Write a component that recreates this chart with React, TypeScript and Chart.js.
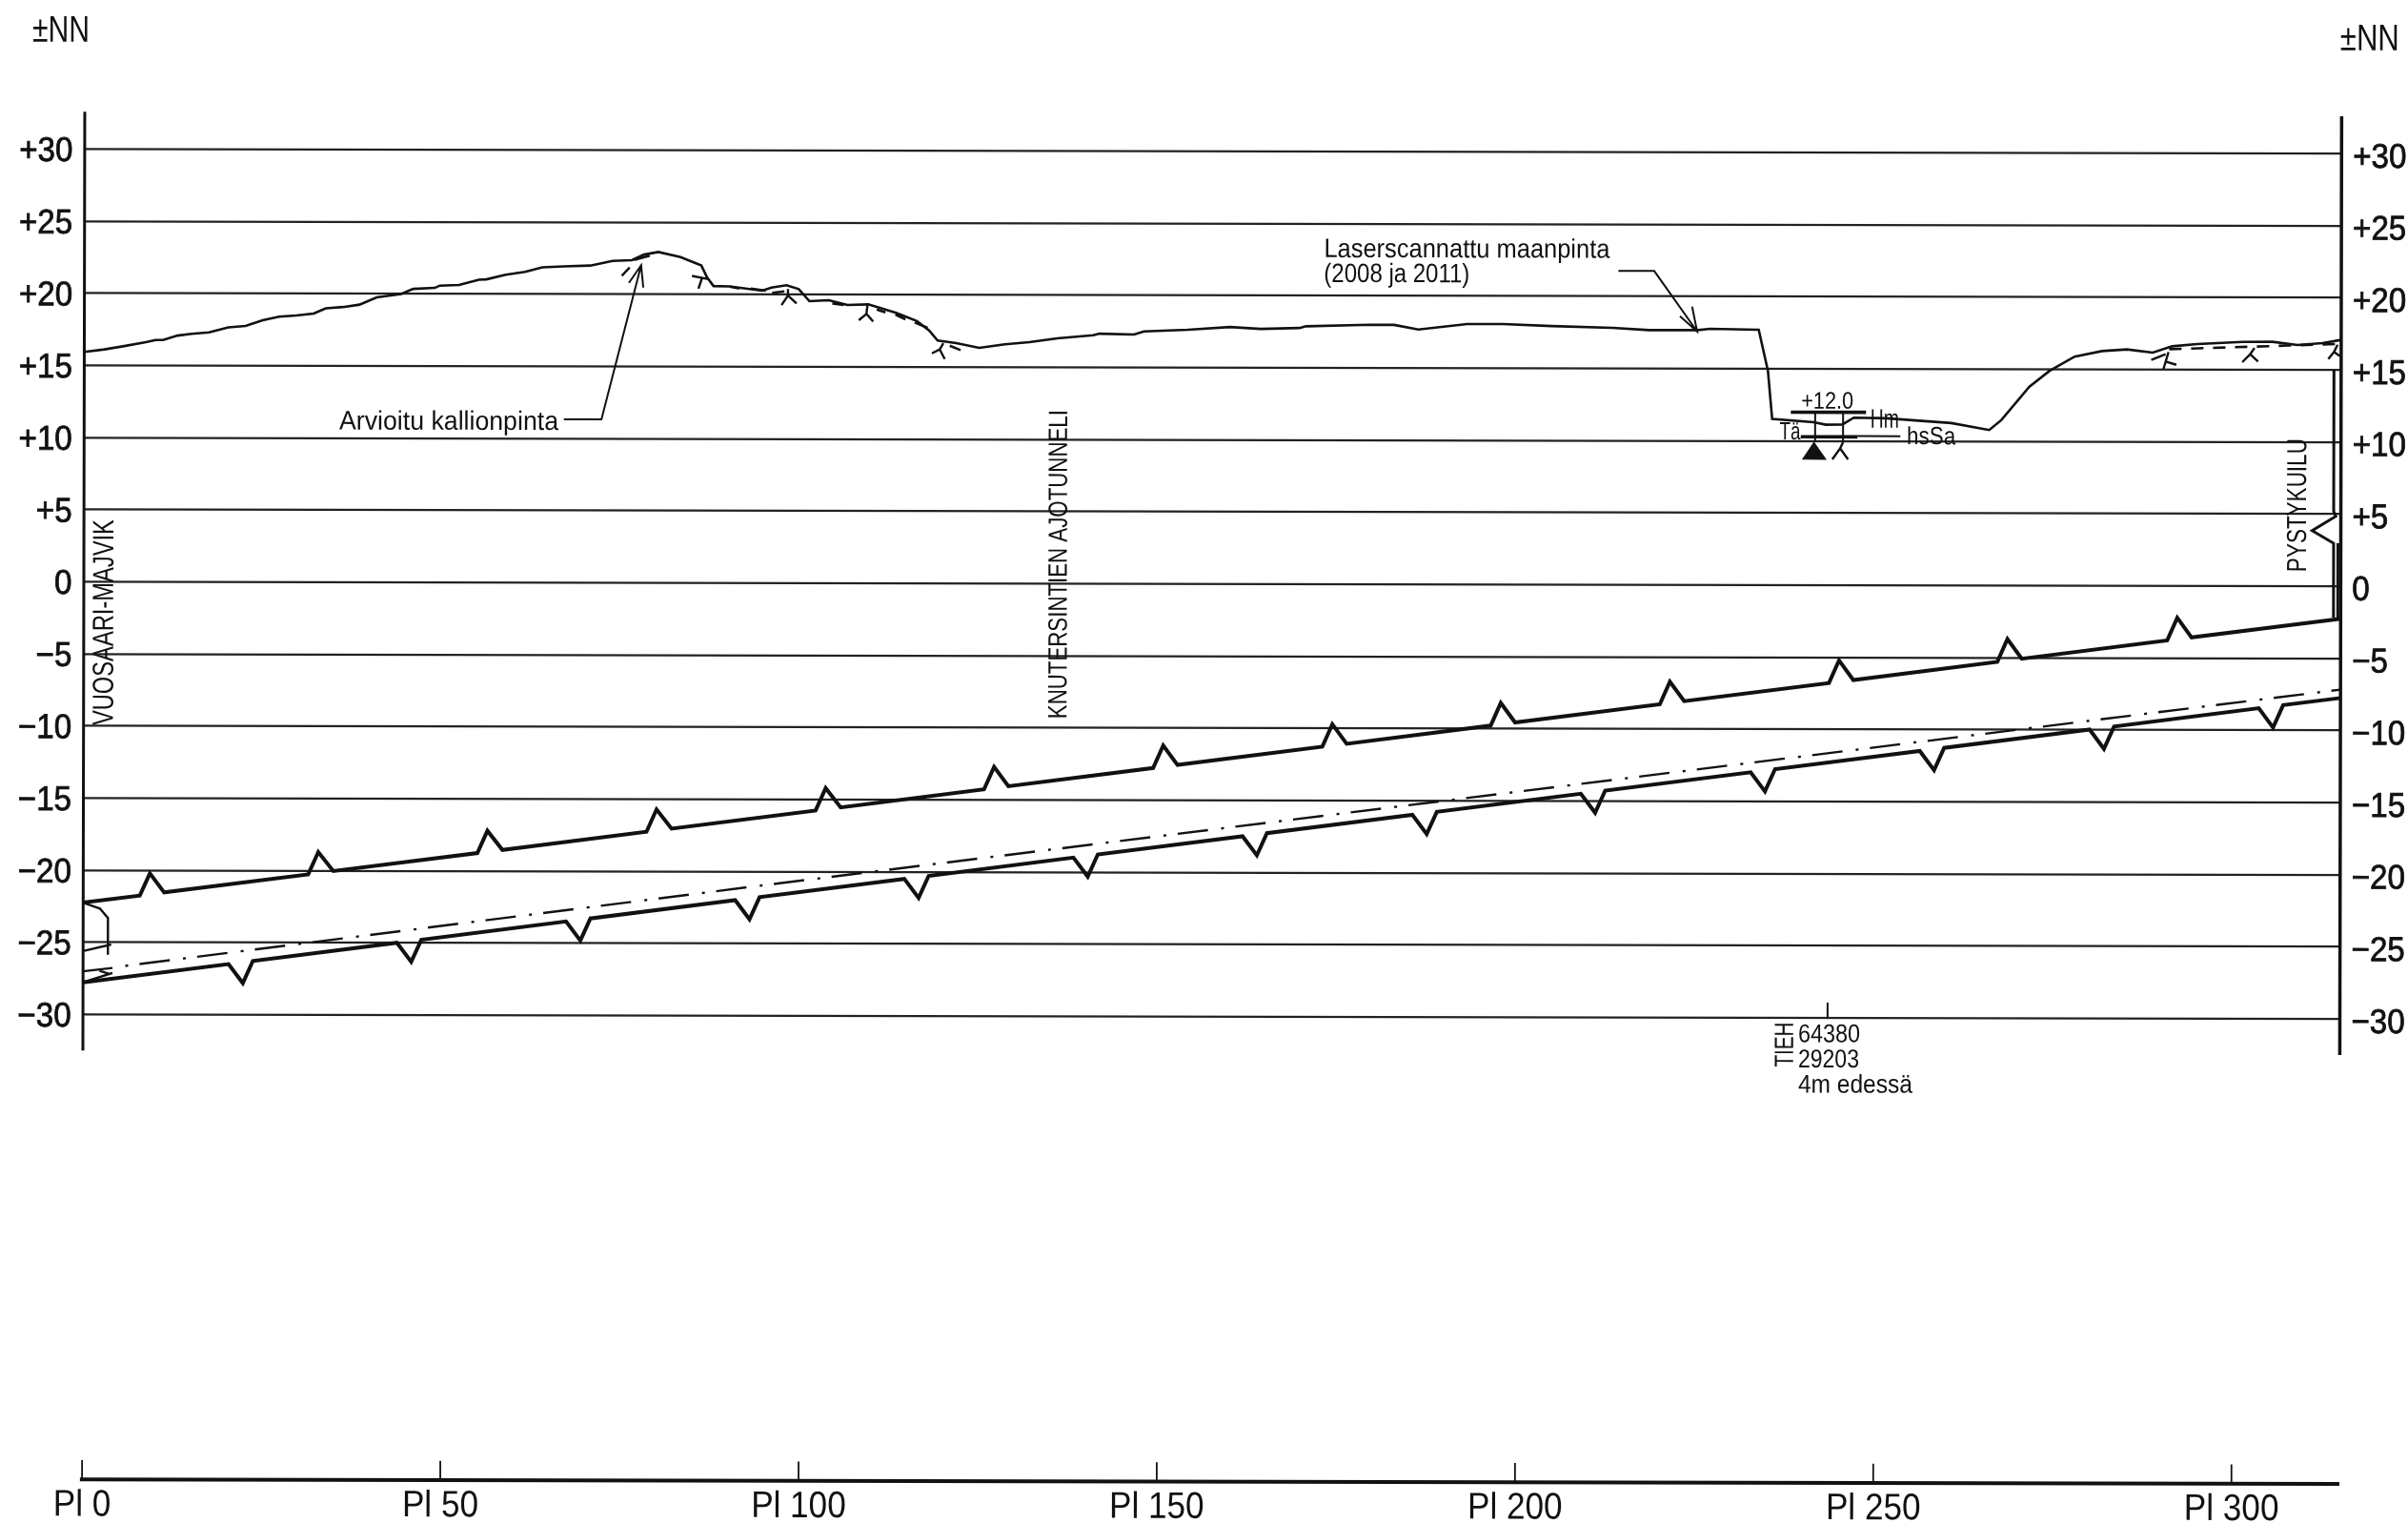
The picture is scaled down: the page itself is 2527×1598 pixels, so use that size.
import React, { useEffect, useRef } from "react";
import { Chart, registerables } from "chart.js";

Chart.register(...registerables);

const FONT = '"Liberation Sans", Arimo, sans-serif';
const INK = "#111111";

const yTickValues = [30, 25, 20, 15, 10, 5, 0, -5, -10, -15, -20, -25, -30];
const plTickValues = [0, 50, 100, 150, 200, 250, 300];

const terrainX = [0, 2.8, 5.2, 8.6, 9.95, 11, 13, 15, 17.4, 20.1, 22.5, 24.9, 27.2, 29.6, 32, 33.7, 36.1, 38.4, 40.8, 44.2, 45.9, 48.9, 49.6, 52.3, 55.05, 56.1, 58.8, 61.5, 63.9, 66.9, 70.6, 73.7, 76.4, 78.1, 80.1, 83.2, 86.1, 86.9, 87.8, 90, 94.6, 95.9, 98, 99.7, 101.2, 103.9, 106.5, 109.4, 113.3, 116.2, 117.9, 119.1, 121.7, 124.9, 128.5, 131.9, 135.8, 140.8, 141.7, 146.5, 147.9, 154, 159.9, 164.2, 169.6, 170.5, 179.4, 182.8, 186.2, 193, 198, 204.8, 213.3, 218.4, 225.2, 226.9, 233.7, 235, 235.6, 241.4, 243.1, 245.4, 247, 251.5, 260.6, 265.9, 267.6, 271.5, 274.3, 277.8, 281.6, 285.1, 288.7, 291.4, 294.9, 301.2, 305.4, 308.9, 312.4, 315];
const terrainY = [15.94, 16.12, 16.32, 16.63, 16.78, 16.78, 17.09, 17.21, 17.32, 17.67, 17.76, 18.16, 18.42, 18.5, 18.63, 19.0, 19.09, 19.26, 19.77, 20.0, 20.36, 20.43, 20.59, 20.64, 21.0, 21.03, 21.35, 21.56, 21.87, 21.94, 22.0, 22.33, 22.38, 22.77, 22.95, 22.6, 22.02, 21.2, 20.6, 20.58, 20.28, 20.5, 20.66, 20.4, 19.56, 19.63, 19.3, 19.35, 18.76, 18.2, 17.55, 16.85, 16.67, 16.35, 16.6, 16.75, 17.02, 17.24, 17.35, 17.29, 17.51, 17.63, 17.83, 17.7, 17.77, 17.89, 18.0, 18.0, 17.68, 18.07, 18.07, 17.94, 17.82, 17.67, 17.68, 17.77, 17.71, 14.86, 11.53, 11.31, 11.14, 11.15, 11.63, 11.59, 11.27, 10.79, 11.49, 13.8, 14.9, 15.89, 16.28, 16.4, 16.18, 16.62, 16.78, 16.94, 16.95, 16.73, 16.86, 17.09];

const upperTunnelX = [0, 7.9, 9.3, 11.3, 31.4, 32.8, 34.9, 55, 56.4, 58.5, 78.6, 80, 82.1, 102.2, 103.6, 105.7, 125.7, 127.1, 129.1, 149.3, 150.7, 152.7, 172.9, 174.3, 176.3, 196.4, 197.8, 199.8, 220, 221.4, 223.4, 243.6, 245, 247, 267.1, 268.5, 270.5, 290.8, 292.2, 294.2, 315];
const upperTunnelY = [-22.24, -21.74, -20.2, -21.52, -20.25, -18.7, -20.02, -18.75, -17.2, -18.53, -17.25, -15.7, -17.03, -15.75, -14.2, -15.53, -14.26, -12.7, -14.04, -12.76, -11.2, -12.54, -11.26, -9.7, -11.05, -9.77, -8.2, -9.55, -8.27, -6.7, -8.05, -6.77, -5.2, -6.56, -5.28, -3.7, -5.06, -3.77, -2.2, -3.56, -2.24];

const lowerTunnelX = [0, 20.3, 22.3, 23.7, 43.8, 45.8, 47.2, 67.4, 69.4, 70.8, 91, 93, 94.4, 114.6, 116.6, 118, 138.2, 140.2, 141.6, 161.8, 163.8, 165.2, 185.5, 187.5, 188.9, 209, 211, 212.4, 232.7, 234.7, 236.1, 256.3, 258.3, 259.7, 280, 282, 283.4, 303.6, 305.6, 307, 315];
const lowerTunnelY = [-27.77, -26.48, -27.8, -26.26, -24.98, -26.3, -24.77, -23.48, -24.8, -23.27, -21.98, -23.3, -21.77, -20.48, -21.8, -20.27, -18.98, -20.3, -18.76, -17.48, -18.8, -17.26, -15.97, -17.3, -15.76, -14.48, -15.8, -14.26, -12.97, -14.3, -12.75, -11.47, -12.8, -11.25, -9.96, -11.3, -9.75, -8.46, -9.8, -8.24, -7.74];

const centerLineX = [5.9, 93.2, 315];
const centerLineY = [-26.62, -21.05, -7.16];

const rockPatchX = [76.7, 78.9, null, 90.1, 91.4, null, 93, 95.1, null, 96, 97.7, null, 104.4, 106, null, 110.6, 111.8, null, 113.2, 114.6, null, 115.9, 117.7, null, 120.8, 122.3];
const rockPatchY = [22.4, 22.7, null, 20.56, 20.43, null, 20.43, 20.28, null, 20.13, 20.24, null, 19.41, 19.3, null, 19, 18.8, null, 18.65, 18.32, null, 18.1, 17.73, null, 16.49, 16.19];
const rockDashX = [291, 307.6, 314.2];
const rockDashY = [16.42, 16.69, 16.8];

const rockMarkX = [98.2, 98.2, 97.3, null, 98.2, 99.4, null, 109.3, 109.15, 108.1, null, 109.15, 110.1, null, 119.9, 119.4, 118.3, null, 119.4, 120.1, null, 84.8, 87.1, null, 86.2, 85.7, null, 75, 76.1, null, 288.5, 290.5, null, 290.9, 290.2, null, 290.5, 292, null, 302.9, 302.3, 301.2, null, 302.3, 303.4, null, 314.5, 314, 313.2, null, 314, 314.8, null, 245.5, 245.1, 244, null, 245.1, 246.2];
const rockMarkY = [20.4, 19.95, 19.29, null, 19.95, 19.4, null, 19.3, 18.69, 18.25, null, 18.69, 18.16, null, 16.67, 16.23, 15.96, null, 16.23, 15.57, null, 21.3, 21.08, null, 21.15, 20.42, null, 21.3, 21.87, null, 15.67, 16.07, null, 16.22, 15.04, null, 15.56, 15.34, null, 16.52, 16.08, 15.53, null, 16.08, 15.58, null, 16.75, 16.25, 15.76, null, 16.25, 15.98, null, 9.93, 9.5, 8.73, null, 9.5, 8.74];

const leaderX = [66.95, 72.2, 77.7, null, 76, 77.7, 78, null, 214.1, 219.1, 225.1, null, 222.7, 225.1, 224.4, null, 243.5, 243.5];
const leaderY = [11.33, 11.34, 22.03, null, 20.81, 22.03, 20.48, null, 21.77, 21.77, 17.59, null, 18.64, 17.59, 19.3, null, -28.93, -30];

const portalX = [0, 2.34, 3.46, 3.46, null, 0, 3.92, null, 0, 4.1, null, 0, 4.1, null, 2.3, 3.8];
const portalY = [-22.24, -22.65, -23.31, -25.85, null, -25.6, -25.14, null, -27, -26.77, null, -27.77, -27.11, null, -26.97, -27.2];

const shaftX = [314, 314, 314.3, 311, 314, 314, null, 314.6, 314.6];
const shaftY = [15.01, 5.2, 4.86, 3.86, 2.99, -2.16, null, 2.99, -2.16];

const boreThickX = [238.2, 248.7, null, 239.6, 247.5];
const boreThickY = [12, 12, null, 10.3, 10.3];
const boreThinX = [241.6, 241.6, null, 245.5, 245.5, null, 247.5, 253.5];
const boreThinY = [12, 9.93, null, 12, 9.93, null, 10.35, 10.35];
const boreTriangleX = [239.8, 243.1, 241.4];
const boreTriangleY = [8.74, 8.74, 9.93];

const axisLeftX = [0, 0];
const axisRightX = [315, 315];
const axisSpanY = [32.6, -32.5];
const plMarkX = [0, 0, null, 50, 50, null, 100, 100, null, 150, 150, null, 200, 200, null, 250, 250, null, 300, 300];
const plMarkY = [-62.2, -60.9, null, -62.2, -60.9, null, -62.2, -60.9, null, -62.2, -60.9, null, -62.2, -60.9, null, -62.2, -60.9, null, -62.2, -60.9];

type Note = { text: string; x: number; y: number; size: number; width: number; align?: CanvasTextAlign; vertical?: boolean };

const notes: Note[] = [
  { text: "±NN", x: -3.34, y: 38.35, size: 39, width: 60 },
  { text: "±NN", x: 318.9, y: 38.08, size: 39, width: 62 },
  { text: "Arvioitu kallionpinta", x: 50.9, y: 11.25, size: 28, width: 230 },
  { text: "Laserscannattu maanpinta", x: 173, y: 23.33, size: 28, width: 300, align: "left" },
  { text: "(2008 ja 2011)", x: 173, y: 21.61, size: 28, width: 153, align: "left" },
  { text: "VUOSAARI-MAJVIK", x: 2.67, y: -2.81, size: 31, width: 216, vertical: true },
  { text: "KNUTERSINTIEN AJOTUNNELI", x: 135.9, y: 1.35, size: 28, width: 324, vertical: true },
  { text: "PYSTYKUILU", x: 308.8, y: 5.62, size: 29, width: 140, vertical: true },
  { text: "+12.0", x: 243.3, y: 12.83, size: 25, width: 55 },
  { text: "Hm", x: 251.3, y: 11.58, size: 28, width: 30 },
  { text: "hsSa", x: 257.8, y: 10.4, size: 26, width: 51 },
  { text: "Tä", x: 238.1, y: 10.71, size: 26, width: 22 },
  { text: "TIEH", x: 237.4, y: -31.85, size: 28, width: 47, vertical: true },
  { text: "64380", x: 239.4, y: -31.05, size: 27, width: 65, align: "left" },
  { text: "29203", x: 239.4, y: -32.8, size: 27, width: 64, align: "left" },
  { text: "4m edessä", x: 239.4, y: -34.55, size: 27, width: 120, align: "left" },
];

const SCAN_TILT = 0.002;
const CAP = 0.35;

const drawCondensed = (ctx: any, text: string, x: number, y: number, size: number, squeeze: number, align: CanvasTextAlign, weight = 0) => {
  ctx.font = `${size}px ${FONT}`;
  ctx.textAlign = align;
  ctx.textBaseline = "alphabetic";
  const w = ctx.measureText(text).width * squeeze;
  ctx.fillText(text, x, y + size * CAP, w);
  if (weight > 0) {
    ctx.lineWidth = weight;
    ctx.strokeStyle = INK;
    ctx.strokeText(text, x, y + size * CAP, w);
  }
};

const scanPlugin = {
  id: "scan",
  beforeDraw(chart: any) {
    const { ctx } = chart;
    ctx.save();
    ctx.rotate(SCAN_TILT);
  },
  afterDraw(chart: any) {
    const { ctx, scales, chartArea } = chart;
    ctx.fillStyle = INK;
    scales.y.ticks.forEach((t: any) => {
      drawCondensed(ctx, t.label, chartArea.left - 12.5, scales.y.getPixelForValue(t.value), 36, 0.92, "right", 0.8);
    });
    scales.y2.ticks.forEach((t: any) => {
      drawCondensed(ctx, t.label, chartArea.right + 12, scales.y2.getPixelForValue(t.value) + 2, 36, 0.92, "left", 0.8);
    });
    scales.x.ticks.forEach((t: any) => {
      drawCondensed(ctx, t.label, scales.x.getPixelForValue(t.value), chartArea.bottom + 25, 39, 0.9, "center");
    });
    ctx.textBaseline = "alphabetic";
    for (const n of notes) {
      const px = scales.x.getPixelForValue(n.x);
      const py = scales.y.getPixelForValue(n.y);
      ctx.save();
      ctx.translate(px, py);
      if (n.vertical) ctx.rotate(-Math.PI / 2);
      ctx.textAlign = n.align ?? "center";
      ctx.font = `${n.size}px ${FONT}`;
      ctx.fillText(n.text, 0, n.size * CAP, n.width);
      ctx.restore();
    }
    ctx.restore();
  },
};

const zip = (xs: (number | null)[], ys: (number | null)[]) => xs.map((x, i) => ({ x: x as number, y: ys[i] as number }));

const line = (label: string, xs: (number | null)[], ys: (number | null)[], width: number, extra: object = {}) => ({
  label,
  data: zip(xs, ys),
  showLine: true,
  borderColor: INK,
  backgroundColor: INK,
  borderWidth: width,
  pointRadius: 0,
  pointHoverRadius: 0,
  tension: 0,
  spanGaps: false,
  clip: false,
  borderJoinStyle: "miter",
  ...extra,
});

const formatValue = (v: number) => (v > 0 ? `+${v}` : v < 0 ? `\u2212${Math.abs(v)}` : "0");

export default function App() {
  const ref = useRef<HTMLCanvasElement>(null);
  useEffect(() => {
    if (!ref.current) return;
    const yCommon = {
      min: -62.2,
      max: 32.6,
      border: { display: false },
      afterBuildTicks: (s: any) => {
        s.ticks = yTickValues.map((value) => ({ value }));
      },
    };
    const chart = new Chart(ref.current, {
      type: "scatter",
      data: {
        datasets: [
          line("Maanpinta", terrainX, terrainY, 2.6),
          line("Kallionpinta laikut", rockPatchX, rockPatchY, 2.6),
          line("Kallionpinta", rockDashX, rockDashY, 2.6, { borderDash: [13, 10] }),
          line("Kalliomerkit", rockMarkX, rockMarkY, 2.4),
          line("Ajotunneli katto", upperTunnelX, upperTunnelY, 4),
          line("Ajotunneli pohja", lowerTunnelX, lowerTunnelY, 4),
          line("Keskilinja", centerLineX, centerLineY, 2.4, { borderDash: [3, 12, 32, 14] }),
          line("Viitteet", leaderX, leaderY, 2),
          line("Suuaukko", portalX, portalY, 2.4),
          line("Pystykuilu", shaftX, shaftY, 3),
          line("Kairaus", boreThinX, boreThinY, 2),
          line("Kairaus kerrokset", boreThickX, boreThickY, 3.6),
          line("Pohjavesi", boreTriangleX, boreTriangleY, 1, { fill: "shape" }),
          line("Vasen akseli", axisLeftX, axisSpanY, 3),
          line("Oikea akseli", axisRightX, axisSpanY, 3.5),
          line("Paaluvalit", plMarkX, plMarkY, 1.8),
        ] as any,
      },
      plugins: [scanPlugin],
      options: {
        animation: false,
        responsive: false,
        devicePixelRatio: 1,
        events: [],
        layout: { padding: { top: 117, left: 0, right: 0, bottom: 0 } },
        plugins: { legend: { display: false }, tooltip: { enabled: false } },
        scales: {
          x: {
            type: "linear",
            min: 0,
            max: 315,
            grid: { display: false },
            border: { display: true, color: INK, width: 4 },
            afterBuildTicks: (s: any) => {
              s.ticks = plTickValues.map((value) => ({ value }));
            },
            afterFit: (s: any) => {
              s.height = 46.4;
            },
            ticks: { display: false, callback: (v: any) => `Pl ${v}` },
          },
          y: {
            ...yCommon,
            position: "left",
            afterFit: (s: any) => {
              s.width = 89.2;
            },
            grid: { display: true, color: "#222222", lineWidth: 2.4, drawTicks: false, tickLength: 0 },
            ticks: { display: false, callback: (v: any) => formatValue(v) },
          },
          y2: {
            ...yCommon,
            position: "right",
            afterFit: (s: any) => {
              s.width = 69.4;
            },
            grid: { display: false, drawTicks: false, tickLength: 0 },
            ticks: { display: false, callback: (v: any) => formatValue(v) },
          },
        },
      } as any,
    });
    return () => chart.destroy();
  }, []);
  return (
    <div style={{ position: "absolute", left: 0, top: 0, width: 2527, height: 1598, background: "#ffffff" }}>
      <canvas ref={ref} width={2527} height={1598} style={{ display: "block" }} />
    </div>
  );
}
